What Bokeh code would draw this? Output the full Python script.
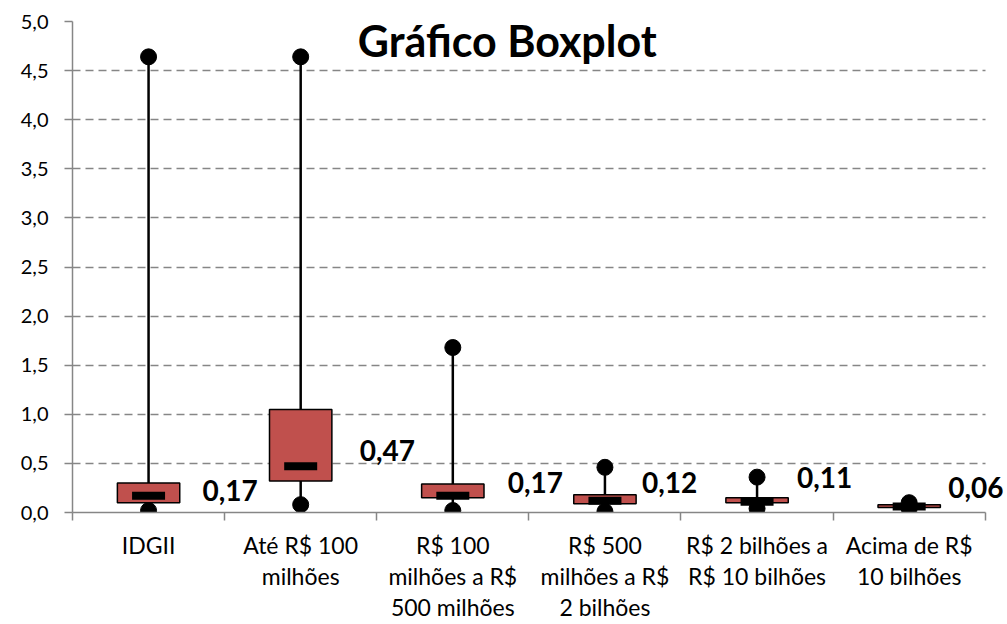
from bokeh.plotting import figure
from bokeh.models import ColumnDataSource, FixedTicker, CustomJSTickFormatter, Range1d, LabelSet, Label
from bokeh.core.properties import value
from bokeh.embed import file_html
from bokeh.resources import INLINE

categories = ["IDGII", "Até R$ 100\nmilhões", "R$ 100\nmilhões a R$\n500 milhões",
              "R$ 500\nmilhões a R$\n2 bilhões", "R$ 2 bilhões a\nR$ 10 bilhões",
              "Acima de R$\n10 bilhões"]
minimum = [0.02, 0.08, 0.02, 0.01, 0.04, 0.04]
q1 = [0.10, 0.32, 0.15, 0.09, 0.10, 0.05]
median = [0.17, 0.47, 0.17, 0.12, 0.11, 0.06]
q3 = [0.30, 1.05, 0.29, 0.18, 0.15, 0.08]
maximum = [4.64, 4.64, 1.68, 0.46, 0.36, 0.10]
median_labels = ["0,17", "0,47", "0,17", "0,12", "0,11", "0,06"]

# label placement (screen px offsets, style only; positive = up for LabelSet)
label_dx = [54, 59, 55, 37, 40, 39]
label_dy = [5, 16, 13, 18, 24, 19]

FONT = "Lato"
n = len(categories)
xs = [i + 0.5 for i in range(n)]

src = ColumnDataSource(dict(x=xs, lo=minimum, q1=q1, med=median, q3=q3, hi=maximum,
                            lab=median_labels, dx=label_dx, dy=label_dy))

p = figure(width=1007, height=624, output_backend="svg", toolbar_location=None,
           x_range=Range1d(0, n + 0.12), y_range=Range1d(0, 5),
           min_border_left=72, min_border_right=4, min_border_top=21, min_border_bottom=112)
p.outline_line_color = None
p.background_fill_color = "white"

# grid
p.xgrid.grid_line_color = None
p.ygrid.ticker = FixedTicker(ticks=[i * 0.5 for i in range(11)])
p.ygrid.cross_bounds = (0, n)
p.ygrid.grid_line_color = "#868686"
p.ygrid.grid_line_dash = "8 5"
p.ygrid.grid_line_width = 1.5

# y axis
p.yaxis.ticker = FixedTicker(ticks=[i * 0.5 for i in range(11)])
p.yaxis.formatter = CustomJSTickFormatter(code="return tick.toFixed(1).replace('.', ',');")
p.yaxis.axis_line_color = "#868686"
p.yaxis.axis_line_width = 1.5
p.yaxis.major_tick_line_color = "#868686"
p.yaxis.major_tick_line_width = 1.5
p.yaxis.major_tick_out = 8
p.yaxis.major_tick_in = 0
p.yaxis.minor_tick_line_color = None
p.yaxis.major_label_text_font = FONT
p.yaxis.major_label_text_font_size = "20px"
p.yaxis.major_label_text_color = "black"
p.yaxis.major_label_standoff = 16

# x axis: labels at category centers, tick marks at boundaries
p.xaxis.bounds = (0, n)
p.xaxis.ticker = FixedTicker(ticks=xs, minor_ticks=list(range(n + 1)))
p.xaxis.formatter = CustomJSTickFormatter(args=dict(labels=categories),
                                          code="return labels[Math.floor(tick)];")
p.xaxis.axis_line_color = "#868686"
p.xaxis.axis_line_width = 1.5
p.xaxis.major_tick_line_color = None
p.xaxis.major_tick_out = 0
p.xaxis.major_tick_in = 0
p.xaxis.minor_tick_line_color = "#868686"
p.xaxis.minor_tick_line_width = 1.5
p.xaxis.minor_tick_out = 8
p.xaxis.minor_tick_in = 0
p.xaxis.major_label_text_font = FONT
p.xaxis.major_label_text_font_size = "23px"
p.xaxis.major_label_text_color = "black"
p.xaxis.major_label_standoff = 10
p.xaxis.major_label_text_line_height = 1.12

# whiskers
p.segment(x0="x", y0="lo", x1="x", y1="hi", source=src, line_color="black", line_width=2.5)
# boxes
p.vbar(x="x", bottom="q1", top="q3", width=0.41, source=src,
       fill_color="#C0504D", line_color="black", line_width=1.5)
# median bars
p.rect(x="x", y="med", width=33, height=8, width_units="screen", height_units="screen",
       source=src, fill_color="black", line_color=None)
# min / max points
p.scatter(x="x", y="lo", source=src, size=16, color="black")
p.scatter(x="x", y="hi", source=src, size=16, color="black")

# median value labels
labels = LabelSet(x="x", y="med", text="lab", x_offset="dx", y_offset="dy", source=src,
                  text_font=value(FONT), text_font_style="bold", text_font_size="28px",
                  text_align="left", text_baseline="middle", text_color="black")
p.add_layout(labels)

# title inside the plot area
p.add_layout(Label(x=2.858, y=4.81, text="Gráfico Boxplot", text_font=FONT,
                   text_font_style="bold", text_font_size="43px", text_align="center",
                   text_baseline="alphabetic", text_color="black"))

open("out.html", "w").write(file_html(p, INLINE))
